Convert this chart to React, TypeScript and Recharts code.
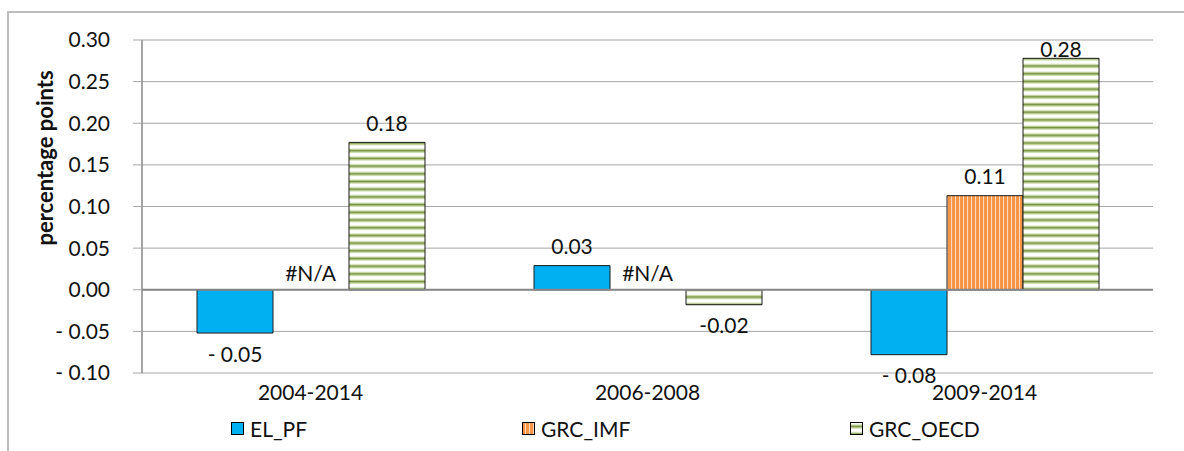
import React from "react";
import {
  BarChart,
  Bar,
  XAxis,
  YAxis,
  CartesianGrid,
  Legend,
  LabelList,
  ReferenceLine,
  ReferenceDot,
} from "recharts";

const categories = ["2004-2014", "2006-2008", "2009-2014"];
const elPf = [-0.052, 0.029, -0.078];
const grcImf: (number | null)[] = [null, null, 0.113];
const grcOecd = [0.177, -0.018, 0.278];
const yTicks = [-0.1, -0.05, 0, 0.05, 0.1, 0.15, 0.2, 0.25, 0.3];

const seriesNames = { elPf: "EL_PF", grcImf: "GRC_IMF", grcOecd: "GRC_OECD" };

const data = categories.map((period, i) => ({
  period,
  elPf: elPf[i],
  grcImf: grcImf[i],
  grcOecd: grcOecd[i],
}));

// categories where GRC_IMF has no value -> Excel shows "#N/A"
const missingImf = categories.filter((_, i) => grcImf[i] == null);

const FONT = "Lato, 'Open Sans', sans-serif";
const TEXT = "#111";
const PLOT_TOP = 40;

// Excel style negative format with a space after the minus sign
const spacedFmt = (v: number) =>
  v < 0 ? `- ${Math.abs(v).toFixed(2)}` : v.toFixed(2);
const plainFmt = (v: number) => v.toFixed(2);

const labelText = {
  textAnchor: "middle" as const,
  dominantBaseline: "central" as const,
  fontFamily: FONT,
  fontSize: 21,
  fill: TEXT,
};

const makeLabel = (fmt: (v: number) => string) => (props: any) => {
  const { x, y, width, height, value } = props;
  if (value == null || Number.isNaN(Number(value))) return null;
  const y0 = Number(y);
  const h = Number(height) || 0;
  if (!Number.isFinite(y0)) return null;
  const v = Number(value);
  const top = Math.min(y0, y0 + h);
  const bottom = Math.max(y0, y0 + h);
  const cy = v >= 0 ? Math.max(top - 20, PLOT_TOP + 8) : bottom + 20;
  return (
    <text {...labelText} x={Number(x) + Number(width) / 2} y={cy}>
      {fmt(v)}
    </text>
  );
};

const NaLabel = (props: any) => (
  <text {...labelText} x={props.cx} y={props.cy - 17}>
    #N/A
  </text>
);

const legendItems = [
  { key: "elPf", fill: "#00B0F0", left: 231 },
  { key: "grcImf", fill: "url(#imfStripes)", left: 522 },
  { key: "grcOecd", fill: "url(#oecdStripes)", left: 850 },
] as const;

function ChartLegend() {
  return (
    <div style={{ position: "relative", width: 1184, height: 28 }}>
      {legendItems.map((it) => (
        <div
          key={it.key}
          style={{
            position: "absolute",
            left: it.left,
            top: 0,
            height: 28,
            display: "flex",
            alignItems: "center",
            fontFamily: FONT,
            fontSize: 21,
            color: TEXT,
          }}
        >
          <svg width={13} height={13} style={{ marginRight: 6 }}>
            <rect x={0.5} y={0.5} width={12} height={12} fill={it.fill} stroke="#000" />
          </svg>
          <span>{seriesNames[it.key]}</span>
        </div>
      ))}
    </div>
  );
}

function YTitle() {
  return (
    <text
      x={44}
      y={158}
      transform="rotate(-90 44 158)"
      textAnchor="middle"
      dominantBaseline="central"
      fontFamily={FONT}
      fontSize={22}
      fontWeight="bold"
      fill={TEXT}
    >
      percentage points
    </text>
  );
}

export default function App() {
  return (
    <div style={{ position: "relative", width: 1184, height: 451, overflow: "hidden" }}>
      <style>{`body{margin:0;overflow:hidden;background:#fff}`}</style>
      <div
        style={{
          position: "absolute",
          left: 7,
          top: 11,
          width: 1177,
          height: 440,
          borderLeft: "2px solid #BDBDBD",
          borderTop: "2px solid #BDBDBD",
          boxSizing: "border-box",
        }}
      />
      <div style={{ position: "absolute", left: 0, top: 0 }}>
        <BarChart
          width={1184}
          height={451}
          data={data}
          margin={{ top: PLOT_TOP, right: 31, bottom: 4, left: 0 }}
          barGap={0}
          barSize={76}
        >
          <defs>
            <pattern id="imfStripes" width={4} height={4} patternUnits="userSpaceOnUse">
              <rect width={4} height={4} fill="#F79646" />
              <rect x={3} width={1} height={4} fill="#FCD9BC" />
            </pattern>
            <pattern id="oecdStripes" width={8} height={7.7} patternUnits="userSpaceOnUse">
              <rect width={8} height={7.7} fill="#fff" />
              <rect y={2.5} width={8} height={1} fill="#C3D69B" />
              <rect y={3.5} width={8} height={2} fill="#77933C" />
              <rect y={5.5} width={8} height={1} fill="#C3D69B" />
            </pattern>
          </defs>
          <CartesianGrid vertical={false} stroke="#A6A6A6" strokeWidth={1} />
          <XAxis
            dataKey="period"
            axisLine={false}
            tickLine={false}
            tickSize={0}
            tickMargin={12}
            height={46}
            interval={0}
            tick={{ fontFamily: FONT, fontSize: 21, fill: TEXT }}
          />
          <YAxis
            width={142}
            domain={[-0.1, 0.3]}
            ticks={yTicks}
            interval={0}
            tickFormatter={spacedFmt}
            axisLine={{ stroke: "#868686", strokeWidth: 1.5 }}
            tickLine={{ stroke: "#A6A6A6" }}
            tickSize={9}
            tickMargin={23}
            tick={{ fontFamily: FONT, fontSize: 21, fill: TEXT }}
            label={{ content: () => <YTitle /> }}
          />
          <ReferenceLine y={0} stroke="#868686" strokeWidth={2} />
          <Legend
            verticalAlign="bottom"
            content={() => <ChartLegend />}
            wrapperStyle={{ left: 0, top: 414, width: 1184, height: 28 }}
          />
          <Bar
            dataKey="elPf"
            name={seriesNames.elPf}
            fill="#00B0F0"
            stroke="#1A1A1A"
            strokeWidth={1}
            isAnimationActive={false}
          >
            <LabelList dataKey="elPf" content={makeLabel(spacedFmt)} />
          </Bar>
          <Bar
            dataKey="grcImf"
            name={seriesNames.grcImf}
            fill="url(#imfStripes)"
            stroke="#1A1A1A"
            strokeWidth={1}
            isAnimationActive={false}
          >
            <LabelList dataKey="grcImf" content={makeLabel(plainFmt)} />
          </Bar>
          <Bar
            dataKey="grcOecd"
            name={seriesNames.grcOecd}
            fill="url(#oecdStripes)"
            stroke="#1A1A1A"
            strokeWidth={1}
            isAnimationActive={false}
          >
            <LabelList dataKey="grcOecd" content={makeLabel(plainFmt)} />
          </Bar>
          {missingImf.map((period) => (
            <ReferenceDot
              key={period}
              x={period}
              y={0}
              r={0}
              shape={NaLabel}
            />
          ))}
        </BarChart>
      </div>
    </div>
  );
}
